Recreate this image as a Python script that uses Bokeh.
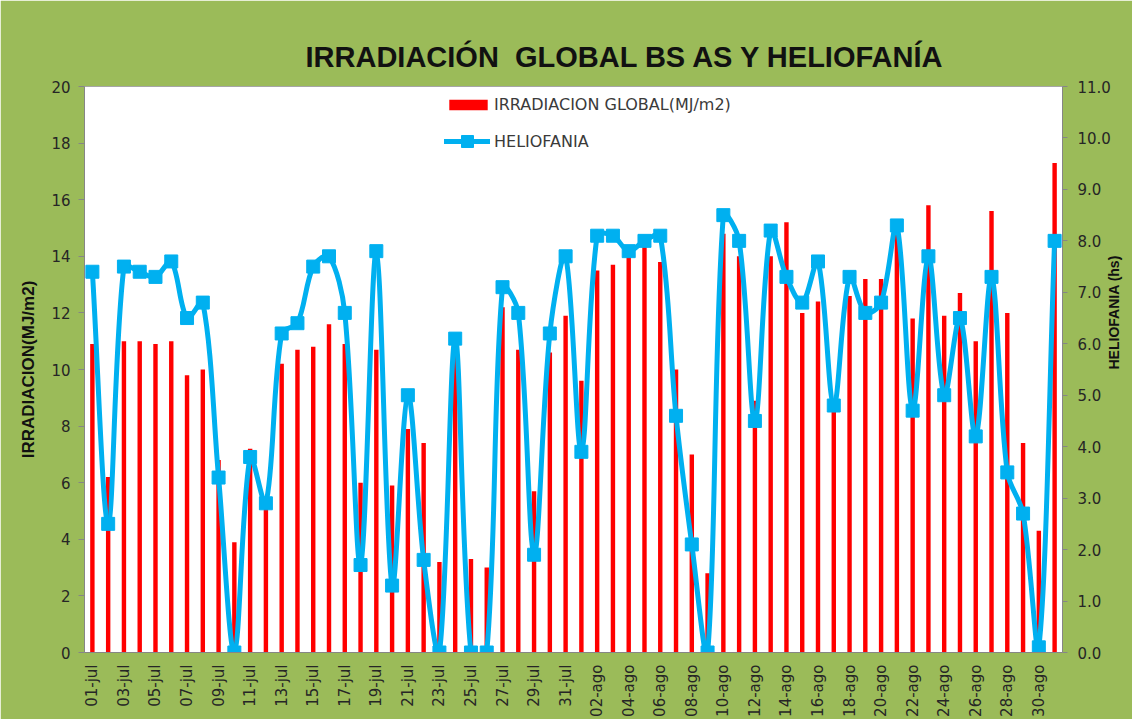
import numpy as np
from bokeh.plotting import figure
from bokeh.models import (Range1d, LinearAxis, FixedTicker, Legend, LegendItem,
                          Title, PrintfTickFormatter)
from bokeh.embed import file_html
from bokeh.resources import INLINE

# ---------------- data ----------------
fechas = [f"{d:02d}-jul" for d in range(1, 32)] + [f"{d:02d}-ago" for d in range(1, 32)]

irradiacion = [10.9, 6.2, 11.0, 11.0, 10.9, 11.0, 9.8, 10.0, 6.8, 3.9,
               7.2, 5.3, 10.2, 10.7, 10.8, 11.6, 10.9, 6.0, 10.7, 5.9,
               7.9, 7.4, 3.2, 10.9, 3.3, 3.0, 12.2, 10.7, 5.7, 10.6,
               11.9, 9.6, 13.5, 13.7, 14.1, 14.4, 13.8, 10.0, 7.0, 2.8,
               14.8, 14.0, 8.9, 14.0, 15.2, 12.0, 12.4, 8.6, 12.6, 13.2,
               13.2, 15.0, 11.8, 15.8, 11.9, 12.7, 11.0, 15.6, 12.0, 7.4,
               4.3, 17.3]

heliofania = [7.4, 2.5, 7.5, 7.4, 7.3, 7.6, 6.5, 6.8, 3.4, 0.0,
              3.8, 2.9, 6.2, 6.4, 7.5, 7.7, 6.6, 1.7, 7.8, 1.3,
              5.0, 1.8, 0.0, 6.1, 0.0, 0.0, 7.1, 6.6, 1.9, 6.2,
              7.7, 3.9, 8.1, 8.1, 7.8, 8.0, 8.1, 4.6, 2.1, 0.0,
              8.5, 8.0, 4.5, 8.2, 7.3, 6.8, 7.6, 4.8, 7.3, 6.6,
              6.8, 8.3, 4.7, 7.7, 5.0, 6.5, 4.2, 7.3, 3.5, 2.7,
              0.1, 8.0]

titulo = "IRRADIACIÓN\u00a0 GLOBAL BS AS Y HELIOFANÍA"
etiqueta_izq = "IRRADIACION(MJ/m2)"
etiqueta_der = "HELIOFANIA (hs)"
serie_barras = "IRRADIACION GLOBAL(MJ/m2)"
serie_linea = "HELIOFANIA"

# ---------------- figure ----------------
GREEN = "#9BBB59"
CYAN = "#00B0F0"
AXIS_GRAY = "#868686"
TXT = "#262626"

FW, FH = 978, 566
n = len(fechas)
x = np.arange(n)
YMAX_L, YMAX_R = 20, 11

p = figure(frame_width=FW, frame_height=FH,
           x_range=Range1d(-0.5, n - 0.5), y_range=Range1d(0, YMAX_L),
           output_backend="svg", toolbar_location=None,
           min_border_left=84, min_border_right=60,
           min_border_top=86, min_border_bottom=55,
           background_fill_color="white", border_fill_color=GREEN)
p.extra_y_ranges = {"h": Range1d(0, YMAX_R)}
p.grid.visible = False
p.outline_line_color = "#A6A6A6"

# title
p.add_layout(Title(text=titulo, align="left", offset=221,
                   text_font="Liberation Sans", text_font_style="bold",
                   text_font_size="29px", text_color="#111111", standoff=27), "above")

# bars
bars = p.vbar(x=x, top=irradiacion, width=0.28, fill_color="#FF0000",
              line_color=None)

# smoothed line: Bezier segments through the points (spreadsheet-style smoothing,
# tangent along neighbours, handle length proportional to the segment length)
sx = FW / n
sy = FH / YMAX_R
h = np.array(heliofania, dtype=float)
PX = x * sx
PY = h * sy
d = np.hypot(np.diff(PX), np.diff(PY))
k = 1.0 / 3.0
x0, y0, x1, y1, cx0, cy0, cx1, cy1 = ([] for _ in range(8))
for i in range(n - 1):
    ip = max(i - 1, 0)
    inx = min(i + 2, n - 1)
    dprev = d[i - 1] if i > 0 else 0.0
    dnext = d[i + 1] if i + 1 < n - 1 else 0.0
    tx0, ty0 = PX[i + 1] - PX[ip], PY[i + 1] - PY[ip]
    tx1, ty1 = PX[inx] - PX[i], PY[inx] - PY[i]
    r0 = d[i] / (dprev + d[i]) if (dprev + d[i]) > 0 else 0
    r1 = d[i] / (d[i] + dnext) if (d[i] + dnext) > 0 else 0
    x0.append(x[i]); y0.append(h[i]); x1.append(x[i + 1]); y1.append(h[i + 1])
    cx0.append(x[i] + k * r0 * tx0 / sx); cy0.append(h[i] + k * r0 * ty0 / sy)
    cx1.append(x[i + 1] - k * r1 * tx1 / sx); cy1.append(h[i + 1] - k * r1 * ty1 / sy)

curve = p.bezier(x0=x0, y0=y0, x1=x1, y1=y1, cx0=cx0, cy0=cy0, cx1=cx1, cy1=cy1,
                 line_color=CYAN, line_width=5, line_cap="round", y_range_name="h")
marks = p.scatter(x=x, y=heliofania, marker="square", size=13, fill_color=CYAN,
                  line_color=CYAN, line_width=1, y_range_name="h")

# axes
ax = p.xaxis[0]
ax.ticker = FixedTicker(ticks=list(range(0, n, 2)))
ax.major_label_overrides = {i: fechas[i] for i in range(0, n, 2)}
ax.major_label_orientation = np.pi / 2
ax.major_label_text_font = "DejaVu Sans"
ax.major_label_text_font_size = "15px"
ax.major_label_text_color = TXT
ax.axis_line_color = AXIS_GRAY
ax.major_tick_line_color = None
ax.minor_tick_line_color = None
ax.major_label_standoff = 6

ly = p.yaxis[0]
ly.ticker = FixedTicker(ticks=list(range(0, 21, 2)))
ly.axis_label = etiqueta_izq
ly.axis_label_text_font = "Liberation Sans"
ly.axis_label_text_font_style = "bold"
ly.axis_label_text_font_size = "17px"
ly.axis_label_text_color = "#111111"
ly.axis_label_standoff = 10
ly.major_label_text_font = "DejaVu Sans"
ly.major_label_text_font_size = "15px"
ly.major_label_text_color = TXT
ly.axis_line_color = AXIS_GRAY
ly.major_tick_line_color = AXIS_GRAY
ly.major_tick_out = 6
ly.major_tick_in = 0
ly.minor_tick_line_color = None
ly.major_label_standoff = 8

ry = LinearAxis(y_range_name="h", ticker=FixedTicker(ticks=list(range(0, 12))),
                formatter=PrintfTickFormatter(format="%.1f"))
ry.axis_label = etiqueta_der
try:
    ry.axis_label_orientation = np.pi / 2
except Exception:
    pass
ry.axis_label_text_font = "Liberation Sans"
ry.axis_label_text_font_style = "bold"
ry.axis_label_text_font_size = "14px"
ry.axis_label_text_color = "#111111"
ry.axis_label_standoff = 0
ry.major_label_text_font = "DejaVu Sans"
ry.major_label_text_font_size = "15px"
ry.major_label_text_color = TXT
ry.axis_line_color = AXIS_GRAY
ry.major_tick_line_color = AXIS_GRAY
ry.major_tick_out = 5
ry.major_tick_in = 0
ry.minor_tick_line_color = None
ry.major_label_standoff = 10
p.add_layout(ry, "right")

# legends
leg1 = Legend(items=[LegendItem(label=serie_barras, renderers=[bars])],
              location=(360, 538), glyph_width=48, glyph_height=13, label_height=13,
              label_standoff=2, padding=0, margin=0, spacing=0,
              border_line_color=None, background_fill_alpha=0,
              label_text_font="DejaVu Sans", label_text_font_size="16px",
              label_text_color="#3a3a3a")
leg2 = Legend(items=[LegendItem(label=serie_linea, renderers=[curve, marks])],
              location=(360, 496), glyph_width=46, glyph_height=30, label_height=30,
              label_standoff=4, padding=0, margin=0, spacing=0,
              border_line_color=None, background_fill_alpha=0,
              label_text_font="DejaVu Sans", label_text_font_size="16px",
              label_text_color="#3a3a3a")
p.add_layout(leg1)
p.add_layout(leg2)

open("out.html", "w").write(file_html(p, INLINE))
